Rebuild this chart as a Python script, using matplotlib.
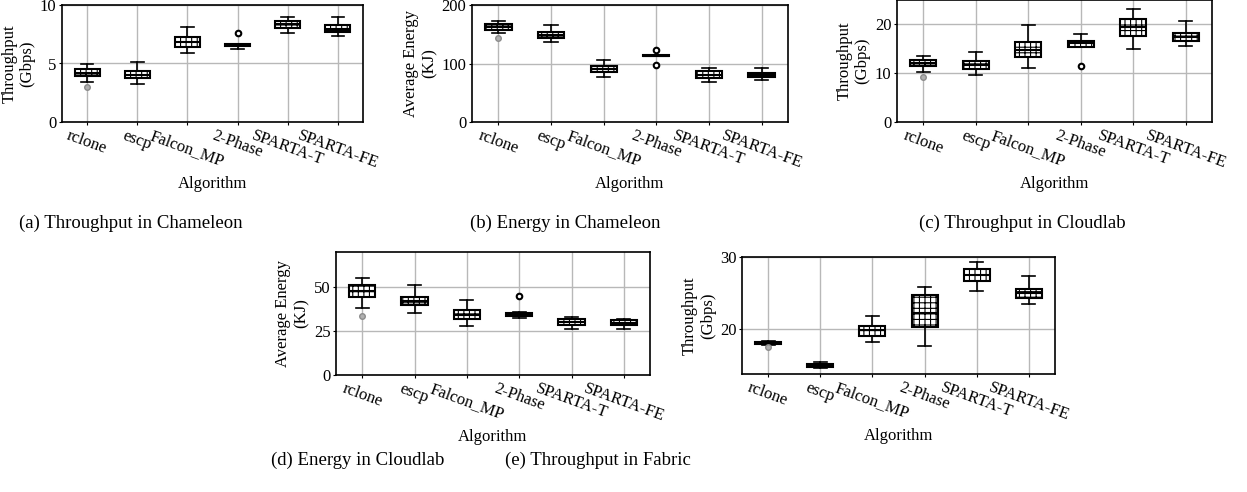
import matplotlib
matplotlib.use('Agg')
import matplotlib.pyplot as plt

plt.rcParams['font.family'] = ['Liberation Serif', 'DejaVu Serif']
plt.rcParams['font.size'] = 12
plt.rcParams['hatch.linewidth'] = 0.8

algorithms = ['rclone', 'escp', 'Falcon_MP', '2-Phase', 'SPARTA-T', 'SPARTA-FE']

# box stats: (whislo, q1, med, q3, whishi)
tput_chameleon = [(3.41, 3.89, 4.23, 4.52, 4.94), (3.24, 3.72, 4.0, 4.37, 5.17),
                  (5.94, 6.45, 6.8, 7.24, 8.1), (6.25, 6.5, 6.6, 6.7, 6.7),
                  (7.64, 8.07, 8.38, 8.66, 8.95), (7.39, 7.7, 7.95, 8.27, 8.95)]
tput_chameleon_fliers = [[2.98], [], [], [7.59], [], []]

energy_chameleon = [(151.7, 157, 163, 167.6, 173), (137, 144, 149, 153, 165),
                    (76.7, 84.7, 90, 96, 106), (112, 112.5, 113.6, 114.8, 115.3),
                    (67.6, 76, 81, 87, 93), (72, 76.7, 80, 83.5, 91.5)]
energy_chameleon_fliers = [[144], [], [], [123, 97], [], []]

tput_cloudlab = [(10.2, 11.4, 12.0, 12.65, 13.5), (9.66, 10.95, 11.6, 12.4, 14.35),
                 (11.16, 13.3, 14.8, 16.4, 19.9), (15.4, 15.4, 16.1, 16.5, 17.96),
                 (14.9, 17.6, 19.5, 21.1, 23.06), (15.6, 16.7, 17.5, 18.3, 20.6)]
tput_cloudlab_fliers = [[9.2], [], [], [11.56], [], []]

energy_cloudlab = [(38.4, 44.5, 47.9, 51.1, 55.3), (35.4, 39.7, 42.0, 44.5, 51.1),
                   (27.9, 31.6, 34.0, 36.9, 42.4), (32.5, 33.5, 34.4, 35.4, 35.7),
                   (25.9, 28.3, 30.2, 32.1, 33.0), (26.2, 28.3, 29.8, 31.2, 32.1)]
energy_cloudlab_fliers = [[33.8], [], [], [45.2], [], []]

tput_fabric = [(17.75, 17.97, 18.1, 18.25, 18.43), (14.57, 14.8, 14.98, 15.16, 15.44),
               (18.3, 19.12, 19.86, 20.46, 21.84), (17.65, 20.37, 22.2, 24.75, 25.8),
               (25.35, 26.7, 27.56, 28.35, 29.3), (23.55, 24.34, 24.98, 25.6, 27.4)]
tput_fabric_fliers = [[17.5], [], [], [], [], []]


def draw(fig, rect, stats, fliers, ylabel, ylim, yticks):
    ax = fig.add_axes(rect)
    bxp_stats = []
    for s, f in zip(stats, fliers):
        bxp_stats.append(dict(whislo=s[0], q1=s[1], med=s[2], q3=s[3], whishi=s[4], fliers=f))
    parts = ax.bxp(bxp_stats, widths=0.5, patch_artist=True, showfliers=True,
                   boxprops=dict(facecolor='white', edgecolor='black', linewidth=1.5, hatch='+++'),
                   medianprops=dict(color='black', linewidth=1.5),
                   whiskerprops=dict(color='black', linewidth=1.2),
                   capprops=dict(color='black', linewidth=1.2),
                   flierprops=dict(marker='o', markersize=4, markerfacecolor='white',
                                   markeredgecolor='black', markeredgewidth=1.5))
    # rclone outlier is drawn in grey
    parts['fliers'][0].set_markeredgecolor('#8c8c8c')
    parts['fliers'][0].set_markerfacecolor('#b0b0b0')
    parts['fliers'][0].set_markeredgewidth(1)
    ax.set_xticks(range(1, len(algorithms) + 1))
    ax.set_xticklabels(algorithms, rotation=-20, ha='center')
    ax.set_xlim(0.5, 6.5)
    ax.set_ylim(*ylim)
    ax.set_yticks(yticks)
    ax.tick_params(length=2.5, pad=1.5)
    ax.grid(True, color='#b8b8b8', linewidth=1)
    ax.set_axisbelow(True)
    ax.set_xlabel('Algorithm', labelpad=3)
    ax.set_ylabel(ylabel, labelpad=3)
    for sp in ax.spines.values():
        sp.set_linewidth(1.2)
    return ax


fig = plt.figure(figsize=(12.47, 4.92), dpi=100)

draw(fig, [62 / 1247, 1 - 122 / 492, 301 / 1247, 117 / 492], tput_chameleon,
     tput_chameleon_fliers, 'Throughput\n(Gbps)', (0, 10), [0, 5, 10])
draw(fig, [472 / 1247, 1 - 122 / 492, 316 / 1247, 117 / 492], energy_chameleon,
     energy_chameleon_fliers, 'Average Energy\n(KJ)', (0, 200), [0, 100, 200])
draw(fig, [897 / 1247, 1 - 122 / 492, 315 / 1247, 122 / 492], tput_cloudlab,
     tput_cloudlab_fliers, 'Throughput\n(Gbps)', (0, 25), [0, 10, 20])
draw(fig, [336 / 1247, 1 - 375 / 492, 314 / 1247, 123 / 492], energy_cloudlab,
     energy_cloudlab_fliers, 'Average Energy\n(KJ)', (0, 70), [0, 25, 50])
draw(fig, [742 / 1247, 1 - 374 / 492, 313 / 1247, 117 / 492], tput_fabric,
     tput_fabric_fliers, 'Throughput\n(Gbps)', (13.8, 30), [20, 30])

captions = ['(a) Throughput in Chameleon', '(b) Energy in Chameleon',
            '(c) Throughput in Cloudlab', '(d) Energy in Cloudlab',
            '(e) Throughput in Fabric']
caption_pos = [(131, 223), (565, 223), (1022, 223), (358, 460), (598, 460)]
for text, (px, py) in zip(captions, caption_pos):
    fig.text(px / 1247, 1 - py / 492, text, ha='center', va='center', fontsize=13.5)

fig.savefig('out.png', dpi=100)
